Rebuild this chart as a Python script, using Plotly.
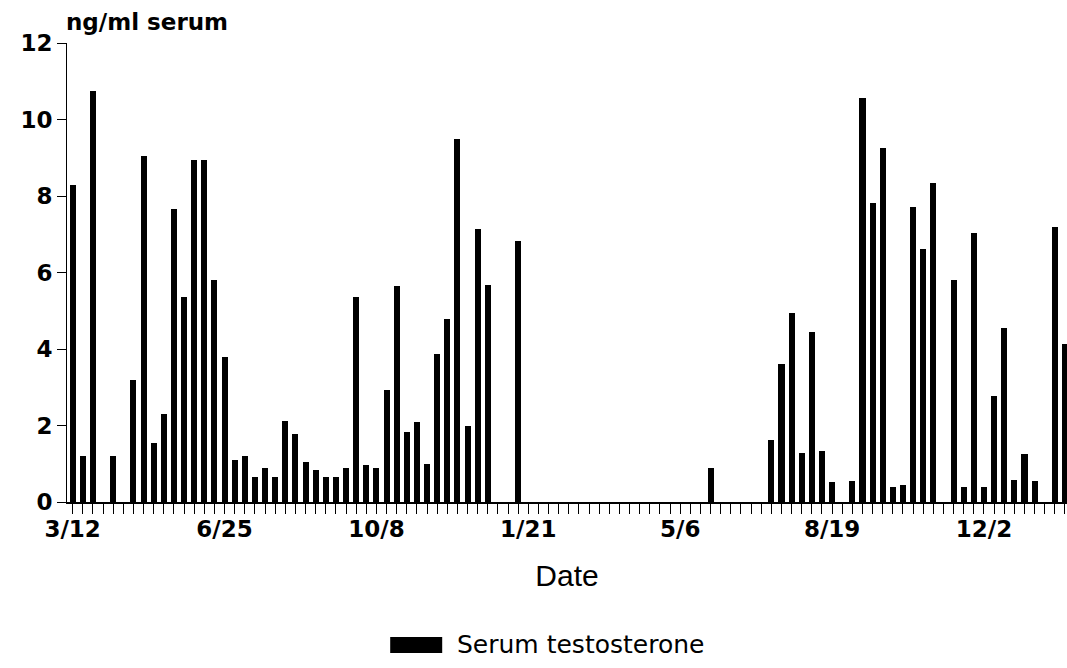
import plotly.graph_objects as go

# Weekly sample index starting at 3/12
weeks = list(range(99))
testosterone = [
    8.3, 1.2, 10.75, 0, 1.2, 0, 3.2, 9.05, 1.55, 2.3,
    7.65, 5.35, 8.95, 8.95, 5.8, 3.8, 1.1, 1.2, 0.65, 0.88,
    0.65, 2.12, 1.77, 1.05, 0.83, 0.65, 0.65, 0.9, 5.37, 0.98,
    0.88, 2.93, 5.65, 1.82, 2.1, 1.0, 3.88, 4.78, 9.5, 1.98,
    7.15, 5.68, 0, 0, 6.82, 0, 0, 0, 0, 0,
    0, 0, 0, 0, 0, 0, 0, 0, 0, 0,
    0, 0, 0, 0.88, 0, 0, 0, 0, 0, 1.63,
    3.6, 4.95, 1.28, 4.45, 1.33, 0.52, 0, 0.55, 10.55, 7.82,
    9.25, 0.38, 0.45, 7.72, 6.62, 8.35, 0, 5.8, 0.4, 7.02,
    0.4, 2.78, 4.55, 0.58, 1.25, 0.55, 0, 7.18, 4.12,
]
label_weeks = [0, 15, 30, 45, 60, 75, 90]
label_text = ["3/12", "6/25", "10/8", "1/21", "5/6", "8/19", "12/2"]
y_ticks = [0, 2, 4, 6, 8, 10, 12]

fig = go.Figure()
fig.add_trace(go.Bar(
    x=weeks, y=testosterone, width=0.6,
    marker=dict(color="black", line=dict(width=0)),
    name="Serum testosterone", showlegend=False,
))

tick_font = dict(family="DejaVu Sans", size=23, color="black", weight="bold")

fig.update_layout(
    width=1067, height=668,
    margin=dict(l=67, r=0, t=43, b=166, pad=0),
    paper_bgcolor="white", plot_bgcolor="white",
    bargap=0,
    xaxis=dict(
        automargin=False,
        range=[-0.56, 98.2],
        tickmode="array", tickvals=label_weeks, ticktext=label_text,
        ticks="outside", ticklen=10, tickwidth=1, tickcolor="black",
        minor=dict(dtick=1, tick0=0, ticks="outside", ticklen=10, tickwidth=1, tickcolor="black"),
        showline=True, linecolor="black", linewidth=1.5,
        showgrid=False, zeroline=False,
        tickfont=tick_font, ticklabelstandoff=-4,
        title=dict(text="Date", font=dict(family="Liberation Sans", size=30, color="black"), standoff=24),
    ),
    yaxis=dict(
        automargin=False,
        range=[0, 12],
        tickmode="array", tickvals=y_ticks,
        ticks="outside", ticklen=9, tickwidth=1, tickcolor="black",
        showline=True, linecolor="black", linewidth=1,
        showgrid=False, zeroline=False,
        tickfont=tick_font,
    ),
    annotations=[
        dict(text="ng/ml serum", xref="paper", yref="paper", x=-0.002, y=1.045,
             xanchor="left", yanchor="middle", showarrow=False, borderpad=0,
             font=dict(family="DejaVu Sans", size=23, color="black", weight="bold")),
        dict(text="Serum testosterone", xref="paper", yref="paper", x=0.388, y=-0.3115,
             xanchor="left", yanchor="middle", showarrow=False,
             font=dict(family="DejaVu Sans", size=25, color="black")),
    ],
    shapes=[
        dict(type="rect", xref="paper", yref="paper", x0=0.3232, x1=0.3752, y0=-0.329, y1=-0.294,
             fillcolor="black", line=dict(width=0)),
    ],
)

fig.write_html(
    "out.html",
    config={"displayModeBar": False},
    post_script="document.body.style.margin='0';document.body.style.overflow='hidden';",
)
